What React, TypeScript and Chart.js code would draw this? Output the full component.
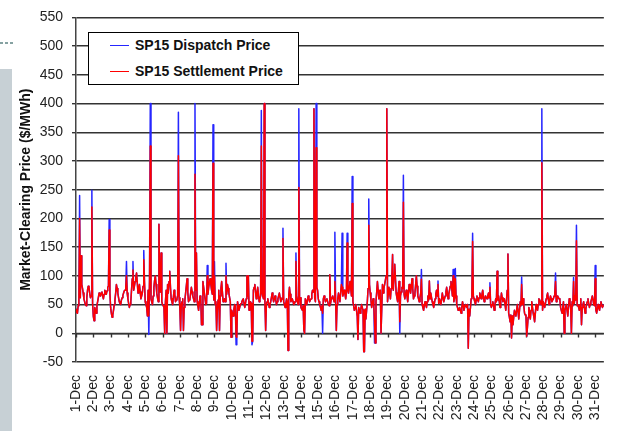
import React, { useEffect, useRef } from "react";
import { Chart, registerables } from "chart.js";

Chart.register(...registerables);

const FONT = "'Liberation Sans', Arial, sans-serif";

// Category tick labels (one per day, at midnight)
const dayLabels = [
  "1-Dec", "2-Dec", "3-Dec", "4-Dec", "5-Dec", "6-Dec", "7-Dec", "8-Dec",
  "9-Dec", "10-Dec", "11-Dec", "12-Dec", "13-Dec", "14-Dec", "15-Dec", "16-Dec",
  "17-Dec", "18-Dec", "19-Dec", "20-Dec", "21-Dec", "22-Dec", "23-Dec", "24-Dec",
  "25-Dec", "26-Dec", "27-Dec", "28-Dec", "29-Dec", "30-Dec", "31-Dec",
];
const dayTicks = [
  0, 1, 2, 3, 4, 5, 6, 7, 8, 9, 10, 11, 12, 13, 14, 15,
  16, 17, 18, 19, 20, 21, 22, 23, 24, 25, 26, 27, 28, 29, 30,
];

// Hourly price level (24 values per day). Dispatch and settlement lie on
// top of each other here; where they part, the hour is listed in the events.
const basePrice = [
  42, 36, 35, 48, 55, 60, 62, 90, 85, 78, 70, 60, 55, 50, 48, 62, 75, 82, 80, 70, 62, 65, 58, 52, // 1-Dec
  30, 22, 45, 40, 35, 48, 55, 62, 70, 66, 65, 70, 72, 65, 60, 68, 75, 72, 68, 74, 80, 82, 85, 70, // 2-Dec
  45, 35, 28, 32, 40, 50, 58, 70, 85, 78, 70, 62, 55, 52, 50, 58, 62, 66, 70, 74, 75, 80, 85, 70, // 3-Dec
  60, 52, 45, 50, 55, 75, 95, 110, 75, 82, 90, 98, 105, 88, 70, 78, 85, 72, 60, 65, 70, 82, 95, 88, // 4-Dec
  55, 50, 45, 30, 75, 88, 95, 85, 60, 55, 50, 65, 80, 92, 100, 85, 70, 62, 55, 75, 85, 72, 60, 55, // 5-Dec
  50, 48, 45, 0, 55, 75, 95, 85, 70, 90, 108, 80, 60, 55, 50, 62, 75, 68, 55, 58, 60, 66, 70, 62, // 6-Dec
  45, 5, 50, 55, 60, 52, 45, 58, 70, 82, 95, 72, 55, 58, 60, 70, 80, 72, 65, 60, 55, 62, 75, 68, // 7-Dec
  55, 48, 40, 52, 65, 62, 60, 15, 90, 80, 70, 60, 50, 52, 55, 68, 80, 88, 95, 85, 75, 68, 60, 58, // 8-Dec
  45, 50, 55, 5, 40, 58, 75, 70, 65, 78, 90, 72, 55, 58, 60, 55, 50, 68, 85, 78, 70, 62, 55, 48, // 9-Dec
  40, 35, 30, 42, 50, 48, 45, -7, 55, 48, 40, 45, 50, 52, 55, 58, 60, 52, 45, 52, 60, 62, 65, 100, // 10-Dec
  40, 48, 55, 52, 50, -14, 75, 80, 85, 72, 60, 70, 80, 68, 55, 60, 65, 68, 70, 65, 60, 58, 55, 5, // 11-Dec
  50, 55, 60, 52, 45, 50, 55, 62, 70, 62, 55, 60, 65, 58, 50, 55, 60, 65, 70, 62, 55, 58, 60, 62, // 12-Dec
  55, 50, 45, 52, 60, 55, 50, 65, 80, 68, 55, 58, 60, 55, 50, 52, 55, 60, 65, 58, 50, 55, 60, 62, // 13-Dec
  45, 42, 40, 48, 55, 0, 60, 55, 50, 58, 65, 60, 55, 58, 60, 68, 75, 72, 70, 62, 55, 68, 80, 75, // 14-Dec
  60, 55, 50, 45, 40, 48, 55, 60, 65, 60, 55, 58, 60, 55, 50, 48, 45, 52, 60, 62, 65, 60, 55, 58, // 15-Dec
  60, 5, 50, 60, 70, 62, 55, 70, 85, 75, 65, 70, 75, 68, 60, 70, 80, 75, 70, 80, 90, 78, 65, 60, // 16-Dec
  55, 48, 40, 45, 50, 40, 30, -11, 45, 40, 35, 42, 50, 45, 40, -32, 60, 42, 25, 40, 55, 78, 100, 85, // 17-Dec
  70, 58, 45, 52, 60, 48, 35, -17, 55, 72, 90, 75, 60, 68, 75, 0, 100, 85, 70, 78, 85, 92, 100, 80, // 18-Dec
  55, 68, 80, 70, 60, 78, 95, 85, 75, 100, 120, 95, 70, 62, 55, 72, 90, 78, 65, 72, 80, 78, 75, 68, // 19-Dec
  60, 68, 75, 65, 55, 70, 85, 78, 70, 82, 95, 78, 60, 65, 70, 85, 100, 82, 65, 60, 55, 62, 70, 65, // 20-Dec
  50, 45, 40, 48, 55, 50, 45, 55, 65, 58, 50, 60, 70, 62, 55, 50, 45, 52, 60, 68, 75, 65, 55, 52, // 21-Dec
  60, 55, 50, 60, 70, 62, 55, 60, 65, 72, 80, 70, 60, 68, 75, 82, 90, 78, 65, 60, 55, 62, 70, 65, // 22-Dec
  50, 45, 40, 42, 45, 40, 35, 45, 55, 48, 40, 45, 50, 48, 45, 50, 55, 42, 30, 45, 60, 68, 75, 65, // 23-Dec
  60, 55, 50, 58, 65, 60, 55, 62, 70, 65, 60, 68, 75, 65, 55, 60, 65, 62, 60, 65, 70, 62, 55, 50, // 24-Dec
  45, 50, 55, 48, 40, 50, 60, 55, 50, 58, 65, 55, 45, 58, 70, 62, 55, 58, 60, 50, 40, 58, 75, 60, // 25-Dec
  35, 28, 20, 32, 45, 30, 15, 28, 40, 35, 30, 40, 50, 38, 25, 40, 55, 48, 40, 50, 60, 48, 35, 32, // 26-Dec
  30, -5, 10, 28, 45, 35, 25, 40, 55, 45, 35, 28, 20, 35, 50, 45, 40, 50, 60, 58, 55, 50, 45, 40, // 27-Dec
  55, 50, 45, 52, 60, 65, 70, 60, 50, 58, 65, 60, 55, 58, 60, 65, 70, 62, 55, 60, 65, 62, 60, 58, // 28-Dec
  45, 40, 35, 45, 55, 48, 40, 45, 50, 40, 30, 45, 60, 52, 45, 0, 55, 48, 40, 52, 65, 58, 50, 48, // 29-Dec
  50, 45, 40, 50, 60, 15, 45, 50, 55, 45, 35, 42, 50, 55, 60, 52, 45, 50, 55, 60, 65, 58, 50, 48, // 30-Dec
  45, 40, 35, 42, 50, 45, 40, 48, 55, 50, 45, 48, 50, 45, 40, 48, 55, 52, 50, 48, 45, 48, 50, 48, // 31-Dec
];

// Single-hour spikes and dips (hour of month, 0 = 1-Dec 00:00)
const eventHour = [
  5, 7, 22, 46, 70, 79, 94, 101, 103, 115, 118, 126, 142, 149, 165, 167,
  174, 182, 190, 192, 199, 208, 215, 222, 237, 244, 257, 261, 263, 287, 294, 305,
  309, 316, 330, 333, 342, 352, 359, 361, 369, 376, 383, 391, 400, 406, 414, 424,
  431, 439, 449, 454, 479, 490, 502, 523, 526, 544, 550, 574, 584, 599, 604, 618,
  625, 646, 665, 677, 690, 694, 701, 720,
];
const eventDispatch = [
  240, 135, 249, 198, 125, 125, 144, -2, 400, 190, 140, 0, 385, 5, 400, 140,
  15, 118, 363, 125, 5, 122, -7, -20, 100, -20, 388, 400, 5, 183, -30, 140,
  391, 5, 391, 400, 0, 102, 176, 5, 174, 174, 273, -11, -32, 234, -17, 0,
  391, 137, 0, 275, 111, 91, 91, 111, 113, -26, 174, 88, 108, 138, -8, 98,
  -5, 391, 105, 0, 97, 188, 15, 118,
];
const eventSettlement = [
  200, 135, 220, 180, 100, 110, 128, 30, 326, 190, 140, 0, 309, 5, 277, 140,
  15, 100, 296, 100, 5, 100, -7, -5, 100, -14, 326, 400, 5, 165, -30, 125,
  254, 5, 391, 323, 35, 102, 90, 5, 80, 157, 226, -11, -32, 188, 20, 0,
  391, 137, 20, 228, 94, 91, 85, 100, 95, -26, 160, 80, 108, 138, -8, 85,
  -5, 297, 90, 0, 90, 161, 15, 95,
];

function buildSeries(events: number[]) {
  const byHour = new Map<number, number>();
  basePrice.forEach((v, i) => byHour.set(i, v));
  eventHour.forEach((h, i) => byHour.set(h, events[i]));
  return Array.from(byHour.entries())
    .sort((a, b) => a[0] - b[0])
    .map(([h, v]) => ({ x: h / 24, y: v }));
}

const zeroTicks = {
  id: "zeroTicks",
  beforeDatasetsDraw(chart: any) {
    const { ctx, scales, chartArea } = chart;
    const x = scales.x;
    const y = scales.y;
    const y0 = Math.round(y.getPixelForValue(0)) + 0.5;
    ctx.save();
    ctx.strokeStyle = "#333";
    ctx.lineWidth = 1.4;
    ctx.beginPath();
    ctx.moveTo(chartArea.left, y0);
    ctx.lineTo(chartArea.right, y0);
    dayTicks.forEach((v) => {
      const px = Math.round(x.getPixelForValue(v)) + 0.5;
      ctx.moveTo(px, y0);
      ctx.lineTo(px, y0 + 4);
    });
    ctx.stroke();
    ctx.restore();
  },
};

function PriceChart() {
  const ref = useRef<HTMLCanvasElement | null>(null);
  useEffect(() => {
    if (!ref.current) return;
    const chart = new Chart(ref.current, {
      type: "line",
      data: {
        datasets: [
          {
            label: "SP15 Settlement Price",
            data: buildSeries(eventSettlement),
            borderColor: "#ff0000",
            borderWidth: 1.5,
            pointRadius: 0,
            tension: 0,
            borderJoinStyle: "round",
          },
          {
            label: "SP15 Dispatch Price",
            data: buildSeries(eventDispatch),
            borderColor: "#2626ff",
            borderWidth: 1.5,
            pointRadius: 0,
            tension: 0,
            borderJoinStyle: "round",
          },
        ],
      },
      options: {
        animation: false,
        responsive: false,
        events: [],
        layout: { padding: { top: 14, left: 0, right: 0, bottom: 0 } },
        plugins: { legend: { display: false }, tooltip: { enabled: false } },
        scales: {
          x: {
            type: "linear",
            min: 0,
            max: 30.5,
            grid: { display: false, drawTicks: false },
            border: { display: false },
            ticks: {
              stepSize: 1,
              includeBounds: false,
              autoSkip: false,
              minRotation: 90,
              maxRotation: 90,
              padding: 13,
              color: "#222",
              font: { family: FONT, size: 14 },
              callback: (v: any) => dayLabels[Math.round(Number(v))] ?? "",
            },
            afterFit: (s: any) => {
              s.height = 69;
            },
          },
          y: {
            min: -50,
            max: 550,
            ticks: {
              stepSize: 50,
              padding: 9,
              color: "#222",
              font: { family: FONT, size: 14 },
            },
            grid: {
              color: "#333",
              lineWidth: 1.4,
              tickLength: 4,
              tickColor: "#333",
              drawTicks: true,
            },
            border: { display: true, color: "#444", width: 1.5 },
            title: {
              display: true,
              text: "Market-Clearing Price ($/MWh)",
              color: "#111",
              font: { family: FONT, size: 14, weight: "bold" },
              padding: { top: 18, bottom: 0 },
            },
            afterFit: (s: any) => {
              s.width = 76;
            },
          },
        },
      } as any,
      plugins: [zeroTicks],
    });
    return () => chart.destroy();
  }, []);
  return <canvas ref={ref} width={625} height={431} style={{ display: "block" }} />;
}

export default function App() {
  return (
    <div
      style={{
        position: "fixed",
        left: 0,
        top: 0,
        width: 625,
        height: 431,
        overflow: "hidden",
        background: "#fff",
      }}
    >
      <div
        style={{
          position: "absolute",
          left: 0,
          top: 42,
          width: 13,
          height: 2,
          background:
            "repeating-linear-gradient(90deg, #86a2a2 0 3px, transparent 3px 5px)",
        }}
      />
      <div
        style={{
          position: "absolute",
          left: 0,
          top: 69,
          width: 12,
          height: 362,
          background: "#c7d0d5",
        }}
      />
      <div style={{ position: "absolute", left: 0, top: 0 }}>
        <PriceChart />
      </div>
      <div
        style={{
          position: "absolute",
          left: 88,
          top: 32,
          width: 209,
          height: 51,
          border: "1px solid #000",
          background: "#fff",
          fontFamily: FONT,
          fontWeight: "bold",
          fontSize: 14,
          color: "#111",
        }}
      >
        <div style={{ position: "absolute", left: 21, top: 12, width: 19, height: 0, borderTop: "1.5px solid #2626ff" }} />
        <div style={{ position: "absolute", left: 46, top: 4, lineHeight: "17px", whiteSpace: "nowrap" }}>
          SP15 Dispatch Price
        </div>
        <div style={{ position: "absolute", left: 21, top: 38, width: 19, height: 0, borderTop: "1.5px solid #ff0000" }} />
        <div style={{ position: "absolute", left: 46, top: 30, lineHeight: "17px", whiteSpace: "nowrap" }}>
          SP15 Settlement Price
        </div>
      </div>
    </div>
  );
}
